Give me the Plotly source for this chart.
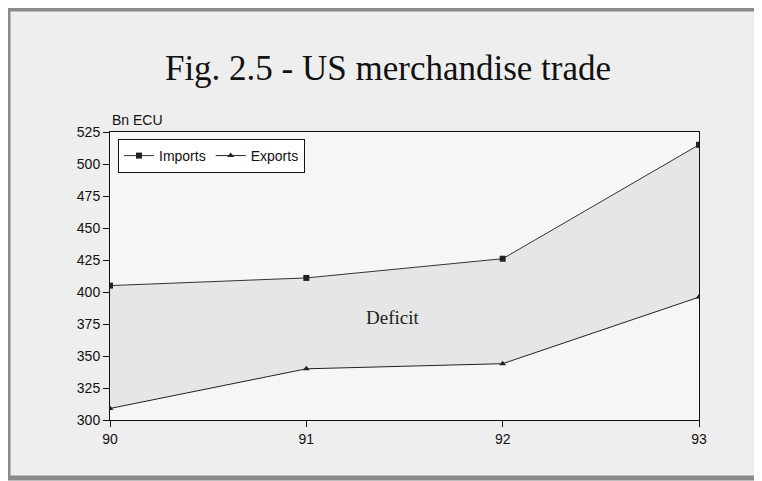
import plotly.graph_objects as go

years = [90, 91, 92, 93]
imports = [405, 411, 426, 515]
exports = [309, 340, 344, 396]
y_ticks = [300, 325, 350, 375, 400, 425, 450, 475, 500, 525]

W, H = 762, 481
OFF = 8  # page body margin offset
L, R, T, B = 110 - OFF, 63 + OFF, 132 - OFF, 61 + OFF

fig = go.Figure()
# deficit band (fill only)
fig.add_trace(go.Scatter(x=years, y=imports, mode="lines", line=dict(width=0, color="rgba(0,0,0,0)"),
                         showlegend=False, hoverinfo="skip"))
fig.add_trace(go.Scatter(x=years, y=exports, mode="lines", line=dict(width=0, color="rgba(0,0,0,0)"),
                         showlegend=False, hoverinfo="skip",
                         fill="tonexty", fillcolor="#e6e6e6"))
fig.add_trace(go.Scatter(
    x=years, y=imports, name="Imports", mode="lines+markers",
    line=dict(color="#333333", width=1),
    marker=dict(symbol="square", size=6, color="#222222"),
))
fig.add_trace(go.Scatter(
    x=years, y=exports, name="Exports", mode="lines+markers",
    line=dict(color="#222222", width=1),
    marker=dict(symbol="triangle-up", size=6, color="#222222"),
))

fig.add_annotation(x=91.44, y=380, text="Deficit", showarrow=False,
                   font=dict(family="Liberation Serif", size=19, color="#222222"))
fig.add_annotation(x=0, y=1, xref="paper", yref="paper", xanchor="left", yanchor="bottom",
                   yshift=2, text="Bn ECU", showarrow=False,
                   font=dict(family="Liberation Sans", size=14, color="#111111"))

def px(x):
    return (x - OFF - L) / (W - L - R)

def py(y):
    return (H - B - (y - OFF)) / (H - T - B)

# outer frame of the scanned figure
fig.add_shape(type="rect", xref="paper", yref="paper",
              x0=px(8), x1=px(760), y0=py(478), y1=py(9),
              line=dict(color="#8a8a8a", width=5), layer="below")

fig.update_layout(
    width=W, height=H,
    margin=dict(l=L, r=R, t=T, b=B),
    paper_bgcolor="#eeeeee",
    plot_bgcolor="#f6f6f6",
    title=dict(text="Fig. 2.5 - US merchandise trade", x=(388 - OFF) / W, xanchor="center",
               y=(H - (68 - OFF)) / H, yanchor="middle",
               font=dict(family="Liberation Serif", size=35, color="#111111")),
    showlegend=True,
    legend=dict(orientation="h", x=px(118), y=py(139), xanchor="left", yanchor="top",
                traceorder="normal",
                bgcolor="white", bordercolor="#111111", borderwidth=1,
                font=dict(family="Liberation Sans", size=14, color="#111111"),
                itemwidth=30, tracegroupgap=0, itemclick=False),
    xaxis=dict(range=[90, 93], tickvals=years, ticktext=[str(v) for v in years],
               showgrid=False, zeroline=False, showline=True, linecolor="#111111",
               linewidth=1, mirror=True, ticks="outside", ticklen=6, tickcolor="#111111",
               tickfont=dict(family="Liberation Sans", size=14, color="#111111")),
    yaxis=dict(range=[300, 525], tickvals=y_ticks,
               showgrid=False, zeroline=False, showline=True, linecolor="#111111",
               linewidth=1, mirror=True, ticks="outside", ticklen=6, tickcolor="#111111",
               tickfont=dict(family="Liberation Sans", size=14, color="#111111")),
)

fig.write_html("out.html")
